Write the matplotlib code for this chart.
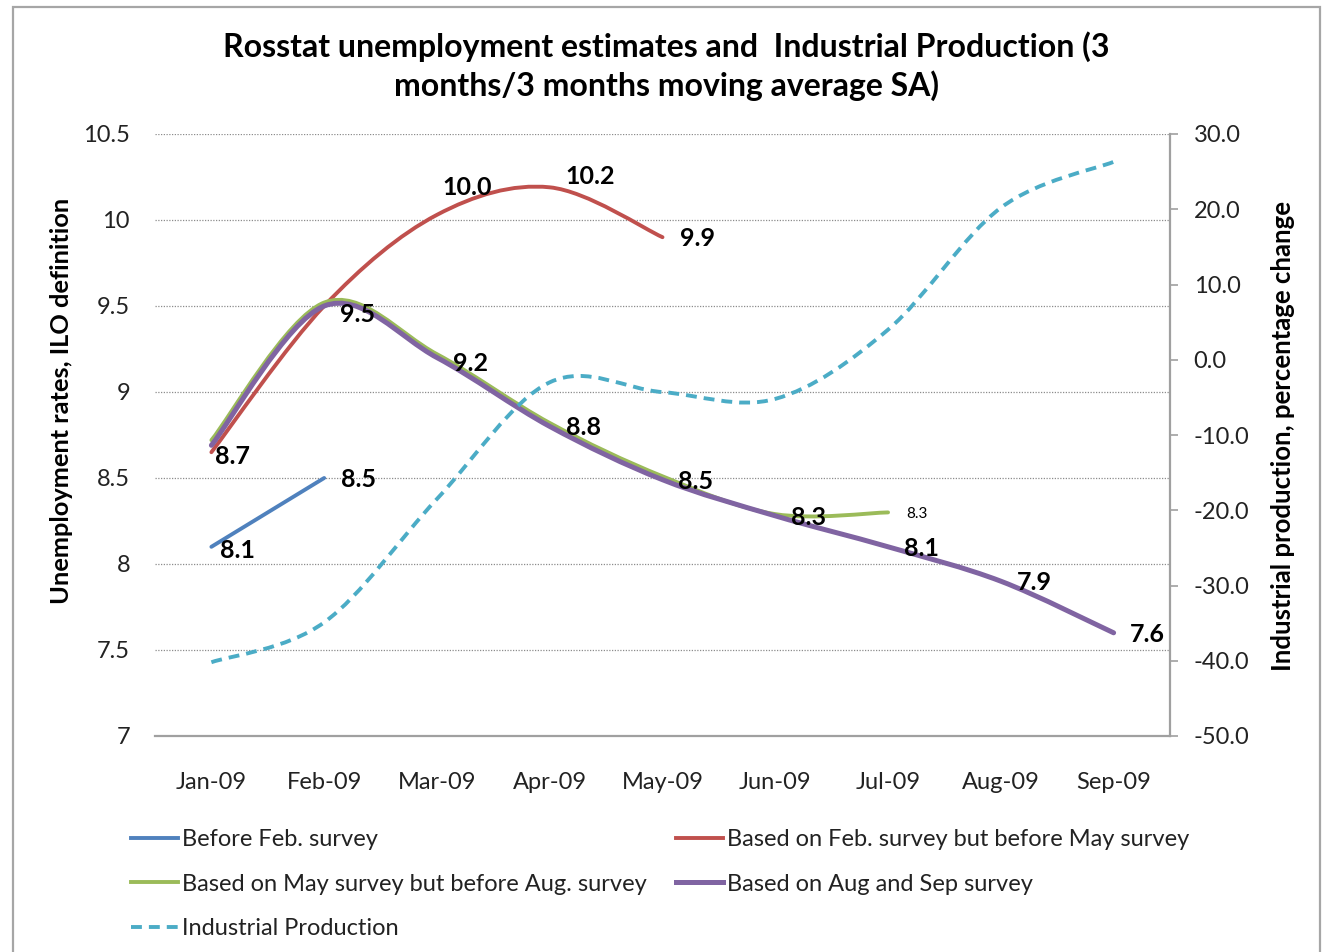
import numpy as np
import matplotlib
matplotlib.use("Agg")
import matplotlib.pyplot as plt
from matplotlib.path import Path
from matplotlib.patches import PathPatch, Rectangle
from matplotlib.lines import Line2D

plt.rcParams['font.family'] = ['Lato', 'DejaVu Sans']
plt.rcParams['axes.unicode_minus'] = False

# data
months = ["Jan-09", "Feb-09", "Mar-09", "Apr-09", "May-09", "Jun-09", "Jul-09", "Aug-09", "Sep-09"]
before_feb = [8.1, 8.5]
feb_to_may = [8.65, 9.5, 10.03, 10.19, 9.9]
may_to_aug = [8.72, 9.52, 9.22, 8.82, 8.51, 8.29, 8.3]
aug_sep = [8.69, 9.5, 9.2, 8.8, 8.49, 8.28, 8.1, 7.9, 7.6]
industrial = [-40.2, -34.9, -18.5, -3.0, -4.3, -5.2, 4.0, 20.2, 26.3]

# data labels as shown
labels_before_feb = ["8.1", "8.5"]
labels_feb_to_may = ["8.7", None, "10.0", "10.2", "9.9"]
labels_may_to_aug = [None, None, None, None, None, None, "8.3"]
labels_aug_sep = [None, "9.5", "9.2", "8.8", "8.5", "8.3", "8.1", "7.9", "7.6"]

c_blue = "#4F81BD"
c_red = "#C0504D"
c_green = "#9BBB59"
c_purple = "#8064A2"
c_aqua = "#4BACC6"


def smooth_path(y):
    # Excel-like smoothed line: cubic bezier through each point
    pts = np.column_stack([np.arange(len(y)), np.asarray(y, dtype=float)])
    n = len(pts)
    verts = [pts[0]]
    codes = [Path.MOVETO]
    for i in range(n - 1):
        p0 = pts[i - 1] if i > 0 else pts[i]
        p1 = pts[i]
        p2 = pts[i + 1]
        p3 = pts[i + 2] if i + 2 < n else pts[i + 1]
        verts += [p1 + (p2 - p0) / 6, p2 - (p3 - p1) / 6, p2]
        codes += [Path.CURVE4] * 3
    return Path(verts, codes)


fig = plt.figure(figsize=(13.22, 9.52), dpi=100)
ax = fig.add_axes([155 / 1322, 1 - 736 / 952, (1170 - 155) / 1322, (736 - 134) / 952])
ax2 = ax.twinx()

ax.set_xlim(-0.5, len(months) - 0.5)
ax.set_ylim(7, 10.5)
ax2.set_ylim(-50, 30)

# gridlines (left axis)
ax.set_yticks(np.arange(7, 10.51, 0.5))
ax.set_yticklabels(["7", "7.5", "8", "8.5", "9", "9.5", "10", "10.5"])
ax.yaxis.grid(True, linestyle=(0, (1, 1.2)), color="#8c8c8c", lw=0.9)
ax.set_axisbelow(True)
ax.tick_params(axis='y', length=0, pad=18, labelsize=17, colors="#222222")
ax.set_xticks(range(len(months)))
ax.set_xticklabels(months)
ax.tick_params(axis='x', length=0, pad=26, labelsize=17, colors="#222222")

for s in ["top", "left", "right"]:
    ax.spines[s].set_visible(False)
ax.spines["bottom"].set_color("#a0a0a0")
ax.spines["bottom"].set_linewidth(1.6)

ax2.set_yticks(np.arange(-50, 31, 10))
ax2.set_yticklabels(["%.1f" % v for v in np.arange(-50, 31, 10)])
ax2.tick_params(axis='y', length=6, width=1.2, pad=11, labelsize=17, colors="#a0a0a0", labelcolor="#222222")
for s in ["top", "left", "bottom"]:
    ax2.spines[s].set_visible(False)
ax2.spines["right"].set_color("#a0a0a0")
ax2.spines["right"].set_linewidth(1.6)

# series
ax.add_patch(PathPatch(smooth_path(before_feb), fc="none", ec=c_blue, lw=2.8, capstyle="round", zorder=3))
ax.add_patch(PathPatch(smooth_path(feb_to_may), fc="none", ec=c_red, lw=2.8, capstyle="round", zorder=3))
ax.add_patch(PathPatch(smooth_path(may_to_aug), fc="none", ec=c_green, lw=2.8, capstyle="round", zorder=3))
ax.add_patch(PathPatch(smooth_path(aug_sep), fc="none", ec=c_purple, lw=3.6, capstyle="round", zorder=4))
ax2.add_patch(PathPatch(smooth_path(industrial), fc="none", ec=c_aqua, lw=2.8,
                        linestyle=(0, (2.8, 1.8)), zorder=3))

# data labels (offsets in points)
lab_kw = dict(textcoords="offset points", ha="center", va="center", fontsize=18,
              fontweight="bold", color="black", zorder=6)
offs_before_feb = [(19, -3), (25, -1)]
offs_feb_to_may = [(15, -3), None, (22, 20), (29, 8), (25, -1)]
offs_aug_sep = [None, (24, -6), (24, -4), (24, -1), (24, -1), (24, -1), (24, -1), (24, -1), (24, -1)]
for vals, labs, offs in [(before_feb, labels_before_feb, offs_before_feb),
                         (feb_to_may, labels_feb_to_may, offs_feb_to_may),
                         (aug_sep, labels_aug_sep, offs_aug_sep)]:
    for i, (v, t, o) in enumerate(zip(vals, labs, offs)):
        if t:
            ax.annotate(t, (i, v), xytext=o, **lab_kw)
ax.annotate(labels_may_to_aug[6], (6, may_to_aug[6]), xytext=(21, -1), textcoords="offset points",
            ha="center", va="center", fontsize=11, color="black", zorder=6)

# axis titles
fig.text(62 / 1322, 1 - 401 / 952, "Unemployment rates, ILO definition", rotation=90,
         ha="center", va="center", fontsize=18.3, fontweight="bold")
fig.text(1283 / 1322, 1 - 436 / 952, "Industrial production, percentage change", rotation=90,
         ha="center", va="center", fontsize=18.5, fontweight="bold")

# title
fig.text(666 / 1322, 1 - 66 / 952,
         "Rosstat unemployment estimates and  Industrial Production (3\nmonths/3 months moving average SA)",
         ha="center", va="center", fontsize=23, fontweight="bold", linespacing=1.35)

# legend, laid out in two fixed columns
h_blue = Line2D([], [], color=c_blue, lw=2.8)
h_red = Line2D([], [], color=c_red, lw=2.8)
h_green = Line2D([], [], color=c_green, lw=2.8)
h_purple = Line2D([], [], color=c_purple, lw=3.6)
h_aqua = Line2D([], [], color=c_aqua, lw=2.8, linestyle=(0, (2.8, 1.8)))
leg_kw = dict(loc="upper left", frameon=False, fontsize=17, handlelength=2.0,
              handletextpad=0.15, labelspacing=1.0, borderaxespad=0, borderpad=0)
leg1 = fig.legend([h_blue, h_green, h_aqua],
                  ["Before Feb. survey", "Based on May survey but before Aug. survey", "Industrial Production"],
                  bbox_to_anchor=(131 / 1322, 1 - 829 / 952), **leg_kw)
leg2 = fig.legend([h_red, h_purple],
                  ["Based on Feb. survey but before May survey", "Based on Aug and Sep survey"],
                  bbox_to_anchor=(676 / 1322, 1 - 829 / 952), **leg_kw)
for leg in (leg1, leg2):
    for t in leg.get_texts():
        t.set_color("#222222")

# outer chart border
fig.patches.append(Rectangle((13 / 1322, -0.02), (1320 - 13) / 1322, 1.02 - 7 / 952,
                             transform=fig.transFigure, fill=False, ec="#a6a6a6", lw=1.6))

fig.savefig("out.png", dpi=100)
